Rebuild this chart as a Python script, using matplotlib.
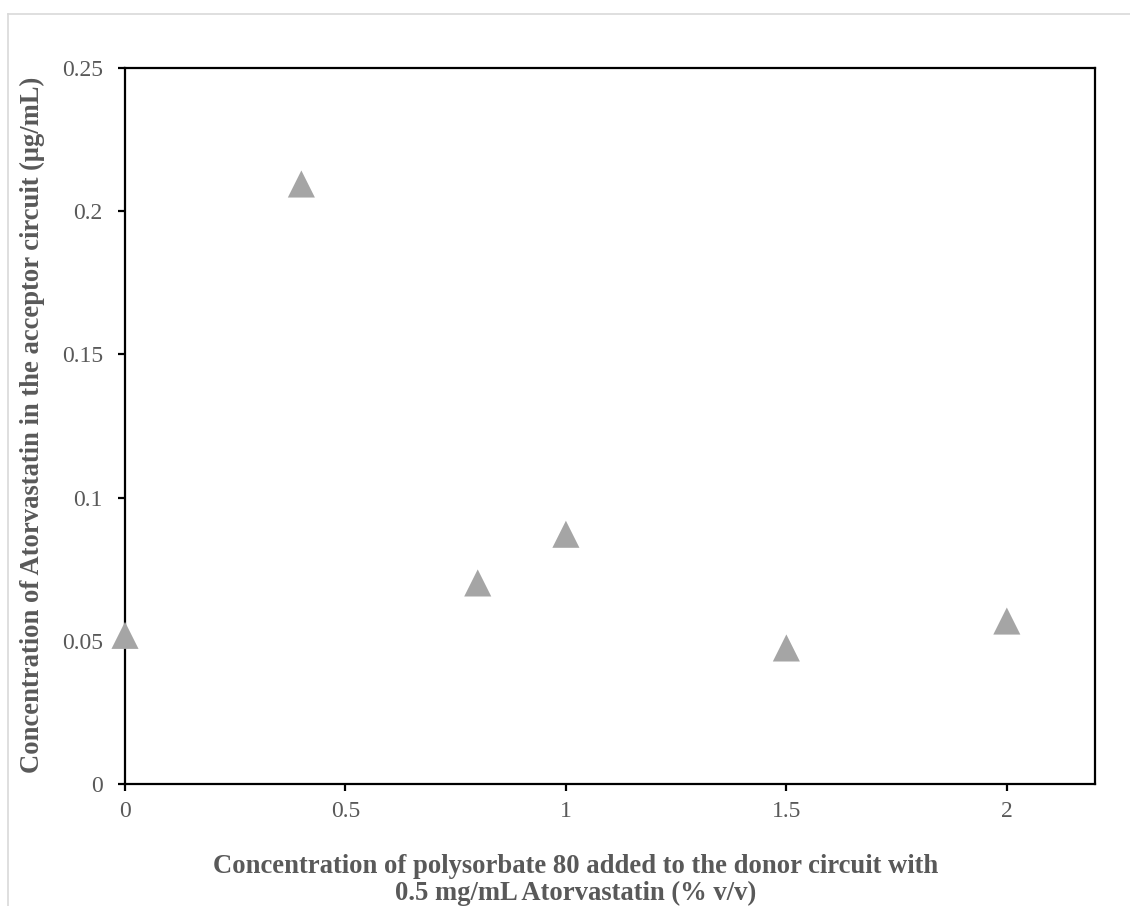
import matplotlib
matplotlib.use("Agg")
import matplotlib.pyplot as plt
from matplotlib.lines import Line2D

polysorbate = [0, 0.4, 0.8, 1.0, 1.5, 2.0]
atorvastatin = [0.0519, 0.2095, 0.0702, 0.0872, 0.0475, 0.0569]
xticks = [0, 0.5, 1, 1.5, 2]
xticklabels = ["0", "0.5", "1", "1.5", "2"]
yticks = [0, 0.05, 0.1, 0.15, 0.2, 0.25]
yticklabels = ["0", "0.05", "0.1", "0.15", "0.2", "0.25"]

W, H = 1130, 906
plt.rcParams['font.family'] = ['Liberation Serif', 'DejaVu Serif']
fig = plt.figure(figsize=(W / 100, H / 100), dpi=100)
grey = '#595959'

ax = fig.add_axes([125 / W, 1 - 784 / H, (1095 - 125) / W, (784 - 68) / H])
ax.scatter(polysorbate, atorvastatin, marker='^', s=19.5 ** 2, color='#A5A5A5',
           edgecolors='none', zorder=3, clip_on=False)
ax.set_xlim(0, 2.2)
ax.set_ylim(0, 0.25)
ax.set_xticks(xticks)
ax.set_xticklabels(xticklabels)
ax.set_yticks(yticks)
ax.set_yticklabels(yticklabels)
for s in ax.spines.values():
    s.set_linewidth(1.6)
    s.set_color('black')
ax.tick_params(direction='out', length=5, width=1.6, color='black',
               labelsize=17, labelcolor=grey)
ax.tick_params(axis='y', pad=11)
ax.tick_params(axis='x', pad=7)

fig.text(576 / W, 1 - 880 / H,
         "Concentration of polysorbate 80 added to the donor circuit with\n0.5 mg/mL Atorvastatin (% v/v)",
         ha='center', va='center', fontsize=19.2, fontweight='bold', color=grey,
         linespacing=1.12)
fig.text(32 / W, 1 - 425 / H,
         "Concentration of Atorvastatin in the acceptor circuit (μg/mL)",
         ha='center', va='center', rotation=90, fontsize=19.2, fontweight='bold',
         color=grey)

# light grey frame (top and left edges)
fig.add_artist(Line2D([8 / W, 1.0], [1 - 14 / H, 1 - 14 / H], color='#D9D9D9', lw=1.2,
                      transform=fig.transFigure))
fig.add_artist(Line2D([8 / W, 8 / W], [1 - 14 / H, 0], color='#D9D9D9', lw=1.2,
                      transform=fig.transFigure))

fig.savefig("out.png", dpi=100)
